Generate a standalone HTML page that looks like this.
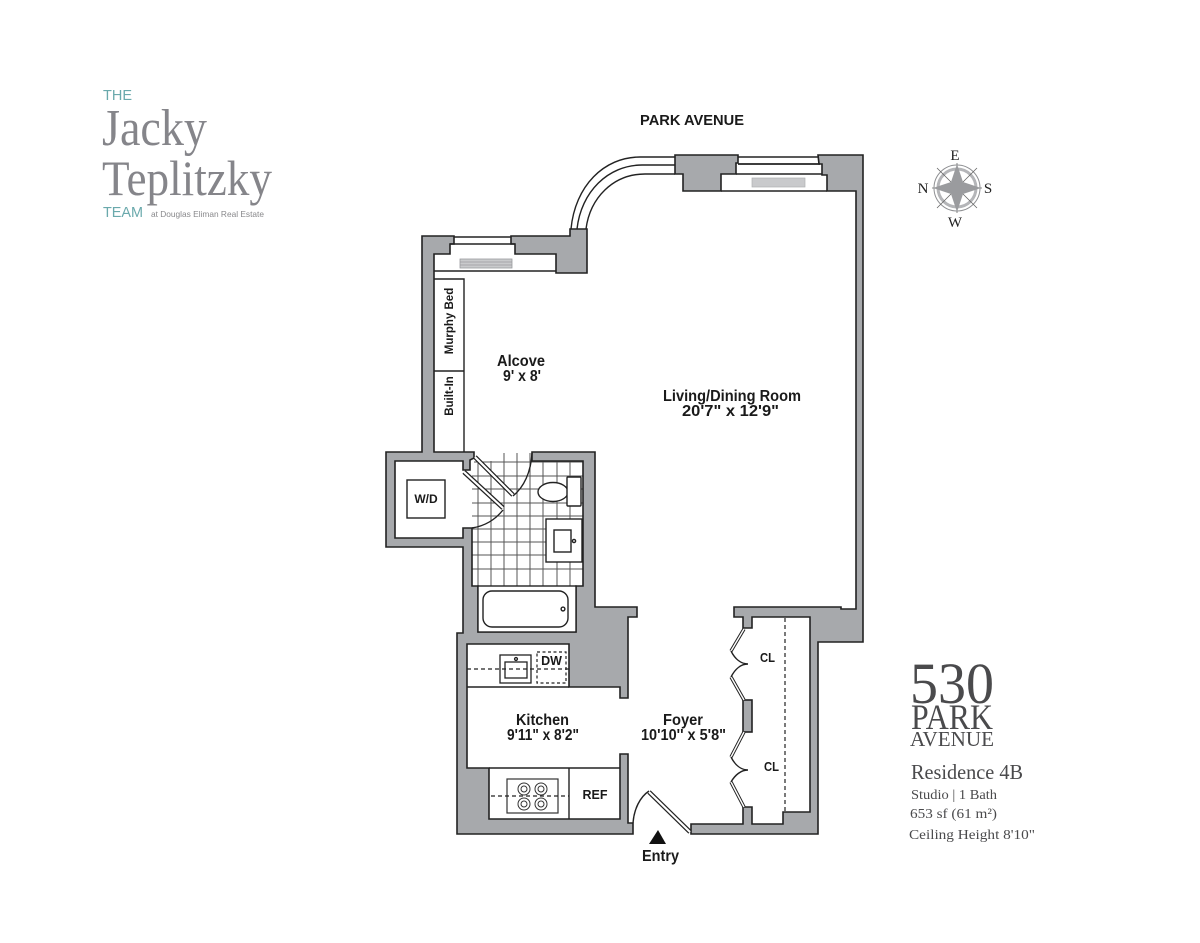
<!DOCTYPE html>
<html>
<head>
<meta charset="utf-8">
<style>
html,body{margin:0;padding:0;background:#fff;}
svg{display:block;}
.w{fill:#a7a9ac;stroke:#222;stroke-width:1.6;stroke-linejoin:miter;}
.l{fill:none;stroke:#222;stroke-width:1.4;}
.lb{fill:#fff;stroke:#222;stroke-width:1.4;}
.t{font-family:"Liberation Sans",sans-serif;font-weight:bold;font-size:15.5px;fill:#1a1a1a;}
.s{font-family:"Liberation Serif",serif;fill:#4a4a4c;}
.g{font-family:"Liberation Sans",sans-serif;}
</style>
</head>
<body>
<svg width="1200" height="943" viewBox="0 0 1200 943" xmlns="http://www.w3.org/2000/svg">
<rect width="1200" height="943" fill="#fff"/>

<!-- Logo -->
<text class="g" x="103" y="100" font-size="15" fill="#6aa9ac" textLength="29" lengthAdjust="spacingAndGlyphs">THE</text>
<text class="s" x="102" y="145" font-size="52" style="fill:#85858a" textLength="105" lengthAdjust="spacingAndGlyphs">Jacky</text>
<text class="s" x="102" y="195" font-size="50" style="fill:#85858a" textLength="170" lengthAdjust="spacingAndGlyphs">Teplitzky</text>
<text class="g" x="103" y="217" font-size="15" fill="#6aa9ac" textLength="40" lengthAdjust="spacingAndGlyphs">TEAM</text>
<text class="g" x="151" y="217" font-size="8.5" fill="#88888b" textLength="113" lengthAdjust="spacingAndGlyphs">at Douglas Eliman Real Estate</text>

<!-- Tile floor -->
<g stroke="#555" stroke-width="1" fill="none">
<path d="M478 461V586M491 461V586M504 453V586M517 453V586M530 453V586M543 461V586M557 461V586M570 461V586"/>
<path d="M474 462H583M472 476H583M472 489H583M472 503H583M472 516H583M472 529H583M472 542H583M472 555H583M472 569H583"/>
</g>

<!-- Walls -->
<path class="w" d="M454 236H422V452H386V547H463V633H457V834H633V823H628V754H620V819H489V768H467V644H569V687H620V698H628V617H637V607H595V452H532V461H583V586H576V632H478V586H472V528H463V538H395V461H463V470H470V460L474 458V452H434V254H450V244H454Z"/>
<path class="w" d="M511 236H570V229H587V273H556V254H515V244H511Z"/>
<path class="w" d="M675 155H738V163H736V174H721V191H683V174H675Z"/>
<path class="w" d="M818 155H863V642H818V834H691V824H743V807H752V824H783V812H810V617H752V628H743V617H734V607H841V609H856V191H827V175H822V164H819Z"/>
<rect class="w" x="743" y="700" width="9" height="32"/>

<!-- Windows top-left -->
<path class="l" d="M454 237H511M450 244H515"/>
<rect x="460" y="259" width="52" height="9" fill="#c9cacc" stroke="#9a9b9e" stroke-width="0.8"/>
<path d="M460 262H512M460 265H512" stroke="#9a9b9e" stroke-width="0.7"/>
<path class="l" d="M434 271H556"/>

<!-- Curved window -->
<path class="l" d="M571 229C575 186 604 157 640 157H675"/>
<path class="l" d="M577 229C581 192 608 165 642 165H675"/>
<path class="l" d="M586 229C590 198 613 174 645 174H675"/>

<!-- Window top-right -->
<path class="l" d="M738 157H818"/>
<path d="M738 164H820" stroke="#222" stroke-width="1.8" fill="none"/>
<path class="l" d="M736 174H822M721 191H827"/>
<rect x="752" y="178" width="53" height="9" fill="#c9cacc" stroke="#b0b1b3" stroke-width="0.7"/>

<!-- Murphy bed / built-in -->
<path class="l" d="M434 279H464V452M434 371H464"/>
<text class="t" transform="translate(453 321) rotate(-90)" text-anchor="middle" style="font-size:11.5px">Murphy Bed</text>
<text class="t" transform="translate(453 396) rotate(-90)" text-anchor="middle" style="font-size:11.5px">Built-In</text>

<!-- W/D -->
<rect class="lb" x="407" y="480" width="38" height="38"/>
<text class="t" x="426" y="503" text-anchor="middle" style="font-size:12px">W/D</text>

<!-- Bath doors -->
<path d="M475 457L513 495" stroke="#222" stroke-width="4.6"/>
<path d="M475 457L513 495" stroke="#fff" stroke-width="2.2"/>
<path d="M464 472L503 508" stroke="#222" stroke-width="4.6"/>
<path d="M464 472L503 508" stroke="#fff" stroke-width="2.2"/>
<path class="l" d="M513 496C524 487 531 472 532 453"/>
<path class="l" d="M503 510C495 520 485 526 472 528"/>

<!-- Toilet -->
<ellipse class="lb" cx="553" cy="492" rx="15" ry="9.5"/>
<rect class="lb" x="567" y="477" width="14" height="29" rx="1"/>
<!-- Vanity -->
<rect class="lb" x="546" y="519" width="36" height="43"/>
<rect class="lb" x="554" y="530" width="17" height="22"/>
<circle class="lb" cx="574" cy="541" r="1.6"/>
<!-- Tub -->
<rect class="lb" x="478" y="586" width="98" height="46"/>
<rect class="lb" x="483" y="591" width="85" height="36" rx="9"/>
<circle class="lb" cx="563" cy="609" r="1.9"/>

<!-- Kitchen upper -->
<path class="l" d="M467 687H569"/>
<path d="M467 669H569" stroke="#222" stroke-width="1.2" stroke-dasharray="4 3"/>
<rect x="500" y="655" width="31" height="28" fill="none" stroke="#222" stroke-width="1.3"/>
<rect x="505" y="662" width="22" height="16" fill="none" stroke="#222" stroke-width="1.3"/>
<circle class="lb" cx="516" cy="659" r="1.4"/>
<rect x="537" y="652" width="29" height="31" fill="none" stroke="#222" stroke-width="1.2" stroke-dasharray="3 2.5"/>
<text class="t" x="551.5" y="665" text-anchor="middle" style="font-size:12.5px">DW</text>

<!-- Kitchen lower -->
<path class="l" d="M569 768V819M489 768H620"/>
<rect x="507" y="779" width="51" height="34" fill="#fff" stroke="#333" stroke-width="1.2"/>
<path d="M491 796H569" stroke="#222" stroke-width="1.2" stroke-dasharray="4 3"/>
<g fill="none" stroke="#333" stroke-width="1">
<circle cx="524" cy="789" r="6"/><circle cx="524" cy="789" r="3"/>
<circle cx="541" cy="789" r="6"/><circle cx="541" cy="789" r="3"/>
<circle cx="524" cy="804" r="6"/><circle cx="524" cy="804" r="3"/>
<circle cx="541" cy="804" r="6"/><circle cx="541" cy="804" r="3"/>
</g>
<text class="t" x="595" y="799" text-anchor="middle" style="font-size:12.5px">REF</text>

<!-- Entry door -->
<path d="M649 792L690 832" stroke="#222" stroke-width="4.6"/>
<path d="M649 792L690 832" stroke="#fff" stroke-width="2.2"/>
<path class="l" d="M649 791C640 797 634 809 633 823"/>
<polygon points="658,830 649,844 666,844" fill="#111"/>

<!-- Closet doors -->
<g fill="none">
<path d="M744 629L731 651M731 677L744 700M744 732L731 757M731 782L744 807" stroke="#222" stroke-width="3.4"/>
<path d="M744 629L731 651M731 677L744 700M744 732L731 757M731 782L744 807" stroke="#fff" stroke-width="1.4"/>
<path class="l" d="M731 651C735 659 741 664 748 664C741 664 735 669 731 677"/>
<path class="l" d="M731 757C735 765 741 770 748 770C741 770 735 775 731 782"/>
</g>
<path d="M785 618V812" stroke="#222" stroke-width="1.2" stroke-dasharray="4 3"/>
<text class="t" x="760" y="662" textLength="15" lengthAdjust="spacingAndGlyphs" style="font-size:12.5px">CL</text>
<text class="t" x="764" y="771" textLength="15" lengthAdjust="spacingAndGlyphs" style="font-size:12.5px">CL</text>

<!-- Room labels -->
<text class="t" x="640" y="125" textLength="104" lengthAdjust="spacingAndGlyphs" style="font-size:14.5px">PARK AVENUE</text>
<text class="t" x="497" y="366" textLength="48" lengthAdjust="spacingAndGlyphs">Alcove</text>
<text class="t" x="503" y="381" textLength="38" lengthAdjust="spacingAndGlyphs">9' x 8'</text>
<text class="t" x="663" y="401" textLength="138" lengthAdjust="spacingAndGlyphs">Living/Dining Room</text>
<text class="t" x="682" y="416" textLength="97" lengthAdjust="spacingAndGlyphs">20'7" x 12'9"</text>
<text class="t" x="516" y="725" textLength="53" lengthAdjust="spacingAndGlyphs">Kitchen</text>
<text class="t" x="507" y="740" textLength="72" lengthAdjust="spacingAndGlyphs">9'11" x 8'2"</text>
<text class="t" x="663" y="725" textLength="40" lengthAdjust="spacingAndGlyphs">Foyer</text>
<text class="t" x="641" y="740" textLength="85" lengthAdjust="spacingAndGlyphs">10'10'' x 5'8"</text>
<text class="t" x="642" y="861" textLength="37" lengthAdjust="spacingAndGlyphs">Entry</text>

<!-- Compass -->
<g transform="translate(957 188)">
<circle r="23" fill="none" stroke="#8f9093" stroke-width="1"/>
<circle r="19" fill="none" stroke="#b4b5b8" stroke-width="3"/>
<path d="M-25 0H25M0 -25V25M-20 -20L20 20M20 -20L-20 20" stroke="#666" stroke-width="0.8"/>
<polygon points="0,-24 6,-6 24,0 6,6 0,24 -6,6 -24,0 -6,-6" fill="#9a9b9e"/>
</g>
<g font-family="Liberation Serif, serif" font-size="15" fill="#222" text-anchor="middle">
<text x="955" y="160">E</text>
<text x="923" y="193">N</text>
<text x="988" y="193">S</text>
<text x="955" y="227">W</text>
</g>

<!-- Building text -->
<text class="s" x="910" y="703" font-size="58" textLength="84" lengthAdjust="spacingAndGlyphs">530</text>
<text class="s" x="911" y="729" font-size="36" textLength="82" lengthAdjust="spacingAndGlyphs">PARK</text>
<text class="s" x="910" y="746" font-size="21" textLength="84" lengthAdjust="spacingAndGlyphs">AVENUE</text>
<text class="s" x="911" y="779" font-size="21" textLength="112" lengthAdjust="spacingAndGlyphs">Residence 4B</text>
<text class="s" x="911" y="799" font-size="14" textLength="86" lengthAdjust="spacingAndGlyphs">Studio | 1 Bath</text>
<text class="s" x="910" y="818" font-size="14" textLength="87" lengthAdjust="spacingAndGlyphs">653 sf (61 m²)</text>
<text class="s" x="909" y="839" font-size="14" textLength="126" lengthAdjust="spacingAndGlyphs">Ceiling Height 8'10"</text>
</svg>
</body>
</html>
